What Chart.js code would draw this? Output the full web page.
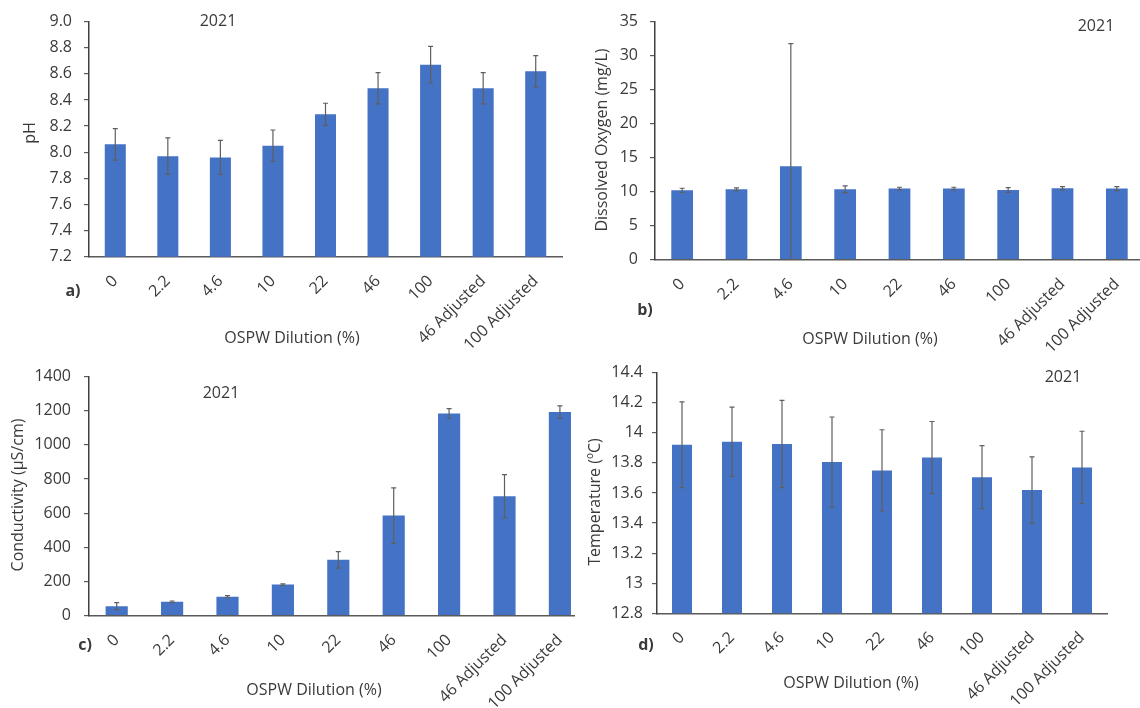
<!DOCTYPE html>
<html><head><meta charset="utf-8">
<script src="https://cdn.jsdelivr.net/npm/chart.js@4.4.1/dist/chart.umd.min.js"></script>
<style>
html,body{margin:0;padding:0;background:#fff;width:1140px;height:708px;overflow:hidden;position:relative}
canvas{position:absolute;background:#fff}
</style></head><body>
<canvas id="ca" width="570" height="354" style="left:0;top:0"></canvas>
<canvas id="cb" width="580" height="354" style="left:570px;top:0"></canvas>
<canvas id="cc" width="600" height="354" style="left:0;top:354px"></canvas>
<canvas id="cd" width="565" height="354" style="left:575px;top:354px"></canvas>
<script>
// ---- data ----
const categories = ['0', '2.2', '4.6', '10', '22', '46', '100', '46 Adjusted', '100 Adjusted'];
const yearLabel = '2021';
const xTitle = 'OSPW Dilution (%)';

const phMean = [8.06, 7.97, 7.96, 8.05, 8.29, 8.49, 8.67, 8.49, 8.62];
const phErr  = [0.12, 0.14, 0.13, 0.12, 0.085, 0.12, 0.14, 0.12, 0.12];

const doMean = [10.2, 10.35, 13.75, 10.35, 10.45, 10.45, 10.25, 10.5, 10.45];
const doErr  = [0.3, 0.2, 18.0, 0.5, 0.2, 0.2, 0.35, 0.25, 0.3];

const condMean = [56, 81, 111, 182, 327, 586, 1184, 699, 1192];
const condErr  = [21, 5, 6, 5, 48, 163, 28, 127, 37];

const tempMean = [13.92, 13.94, 13.925, 13.805, 13.75, 13.835, 13.705, 13.62, 13.77];
const tempErr  = [0.285, 0.23, 0.29, 0.30, 0.27, 0.24, 0.21, 0.22, 0.24];

// ---- styling ----
const FS = 16;
Chart.defaults.font.family = "'Open Sans', 'DejaVu Sans', sans-serif";
Chart.defaults.font.size = FS;
Chart.defaults.color = '#3a3a3a';
const BAR = '#4472C4';
const TXT = '#3a3a3a';

function makePanel(id, means, errs, yMin, yMax, yStep, fmt, box, texts) {
  const canvas = document.getElementById(id);
  const W = canvas.width, H = canvas.height;
  const plug = {
    id: 'deco_' + id,
    afterDatasetsDraw(chart) {
      const ctx = chart.ctx, ys = chart.scales.y, meta = chart.getDatasetMeta(0), ca = chart.chartArea;
      ctx.save();
      ctx.strokeStyle = '#5f5f5f';
      ctx.lineWidth = 1.2;
      means.forEach((m, i) => {
        const x = meta.data[i].x;
        const yt = ys.getPixelForValue(m + errs[i]);
        const yb0 = ys.getPixelForValue(m - errs[i]);
        const yb = Math.min(yb0, ca.bottom);
        ctx.beginPath();
        ctx.moveTo(x, yt); ctx.lineTo(x, yb);
        ctx.moveTo(x - 2.5, yt); ctx.lineTo(x + 2.5, yt);
        if (yb0 < ca.bottom) { ctx.moveTo(x - 2.5, yb); ctx.lineTo(x + 2.5, yb); }
        ctx.stroke();
      });
      ctx.restore();
    },
    afterDraw(chart) {
      const ctx = chart.ctx;
      texts.forEach(t => {
        ctx.save();
        ctx.translate(t.x, t.y);
        if (t.rot) ctx.rotate(t.rot);
        ctx.font = (t.bold ? 'bold ' : '') + (t.size || FS) + "px 'Open Sans', sans-serif";
        ctx.fillStyle = t.color || TXT;
        ctx.textAlign = 'center';
        ctx.textBaseline = 'middle';
        ctx.fillText(t.t, 0, 0);
        ctx.restore();
      });
    }
  };
  return new Chart(canvas, {
    type: 'bar',
    data: {
      labels: categories,
      datasets: [{ data: means, backgroundColor: BAR, barPercentage: 0.4, categoryPercentage: 1.0 }]
    },
    options: {
      responsive: false,
      animation: false,
      layout: { padding: { left: 0, top: box.top, right: W - box.right, bottom: 0 } },
      plugins: { legend: { display: false }, tooltip: { enabled: false } },
      scales: {
        x: {
          grid: { display: false, drawTicks: false },
          border: { display: true, color: '#5a5a5a', width: 1.5 },
          ticks: { autoSkip: false, minRotation: 45, maxRotation: 45, padding: 15, color: TXT, font: { size: FS } },
          afterFit(s) { s.height = H - box.bottom; }
        },
        y: {
          min: yMin, max: yMax, beginAtZero: false,
          grid: { display: true, drawOnChartArea: false, drawTicks: true, tickLength: 5, color: '#595959', lineWidth: 1.2 },
          border: { display: true, color: '#404040', width: 1.5 },
          ticks: { stepSize: yStep, padding: box.lpad, callback: fmt, color: TXT, font: { size: FS } },
          afterFit(s) { s.width = box.left; }
        }
      }
    },
    plugins: [plug]
  });
}

const fmt1 = v => Number(v).toFixed(1);
const fmtInt = v => String(Math.round(v));
const fmtGen = v => String(Math.round(v * 10) / 10);
const R = -Math.PI / 2;

makePanel('ca', phMean, phErr, 7.2, 9.0, 0.2, fmt1,
  { left: 89, top: 15, right: 562, bottom: 256.7, lpad: 12 },
  [ { t: yearLabel, x: 218, y: 21 },
    { t: 'pH', x: 30, y: 133, rot: R },
    { t: 'a)', x: 73, y: 291, bold: true },
    { t: xTitle, x: 292, y: 338 } ]);

makePanel('cb', doMean, doErr, 0, 35, 5, fmtInt,
  { left: 85, top: 11.7, right: 574, bottom: 259.7, lpad: 12 },
  [ { t: yearLabel, x: 526, y: 26 },
    { t: 'Dissolved Oxygen (mg/L)', x: 32, y: 140, rot: R },
    { t: 'b)', x: 75, y: 310, bold: true },
    { t: xTitle, x: 300, y: 339 } ]);

makePanel('cc', condMean, condErr, 0, 1400, 200, fmtInt,
  { left: 89, top: 18.7, right: 587.6, bottom: 261.7, lpad: 13 },
  [ { t: yearLabel, x: 221, y: 39 },
    { t: 'Conductivity (\u00B5S/cm)', x: 18.5, y: 141, rot: R },
    { t: 'c)', x: 85, y: 291, bold: true },
    { t: xTitle, x: 314, y: 336 } ]);

makePanel('cd', tempMean, tempErr, 12.8, 14.4, 0.2, fmtGen,
  { left: 82, top: 13.3, right: 532, bottom: 259.3, lpad: 9 },
  [ { t: yearLabel, x: 488, y: 23 },
    { t: 'Temperature (\u00BAC)', x: 20, y: 148, rot: R },
    { t: 'd)', x: 71, y: 291, bold: true },
    { t: xTitle, x: 276, y: 329 } ]);
</script>
</body></html>
